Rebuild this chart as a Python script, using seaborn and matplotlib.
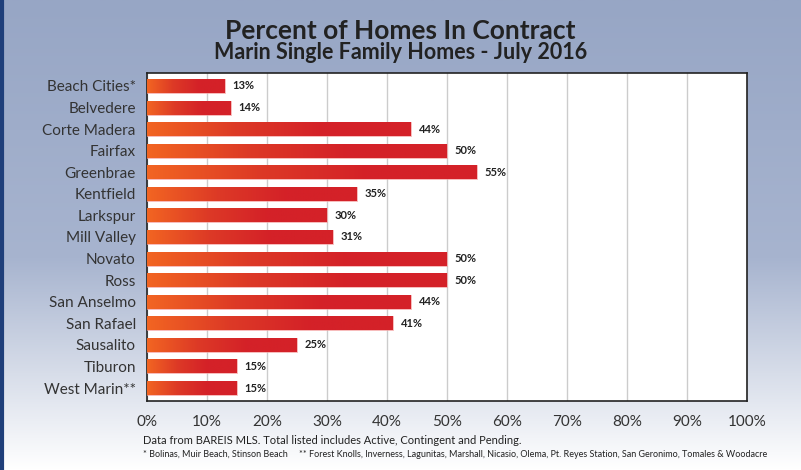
import numpy as np
import pandas as pd
import matplotlib.pyplot as plt
import seaborn as sns
from matplotlib.colors import LinearSegmentedColormap

# data
areas = ['Beach Cities*', 'Belvedere', 'Corte Madera', 'Fairfax', 'Greenbrae',
         'Kentfield', 'Larkspur', 'Mill Valley', 'Novato', 'Ross',
         'San Anselmo', 'San Rafael', 'Sausalito', 'Tiburon', 'West Marin**']
pct_in_contract = [13, 14, 44, 50, 55, 35, 30, 31, 50, 50, 44, 41, 25, 15, 15]
x_ticks = [0, 10, 20, 30, 40, 50, 60, 70, 80, 90, 100]

df = pd.DataFrame({'area': areas, 'pct': pct_in_contract})

sns.set_theme(style='white')
plt.rcParams['font.family'] = ['Lato', 'DejaVu Sans']

fig = plt.figure(figsize=(8.01, 4.70), dpi=100)

# background gradient
bg = fig.add_axes([0, 0, 1, 1], zorder=-10)
grad = np.linspace(0, 1, 256).reshape(-1, 1)
bg_cmap = LinearSegmentedColormap.from_list('bg', [(0, '#97a6c5'), (0.55, '#a7b4cf'), (1, '#ffffff')])
bg.imshow(grad, aspect='auto', cmap=bg_cmap, extent=[0, 1, 0, 1], origin='upper')
bg.axvline(0.002, color='#1f3f7a', lw=3)
bg.set_axis_off()

ax = fig.add_axes([0.1835, 0.1468, 0.749, 0.6979])
ax.set_facecolor('white')
sns.barplot(data=df, x='pct', y='area', orient='h', width=0.65, color='#d42128', ax=ax, zorder=3)

# gradient fill for each bar
bar_cmap = LinearSegmentedColormap.from_list('bar', ['#f26522', '#dd3a26', '#d42128', '#d42128'])
hgrad = np.linspace(0, 1, 256).reshape(1, -1)
for p in ax.patches:
    x0, y0 = p.get_x(), p.get_y()
    w, h = p.get_width(), p.get_height()
    p.set_facecolor('none')
    p.set_edgecolor('#f4a0a0')
    p.set_linewidth(0.5)
    im = ax.imshow(hgrad, aspect='auto', cmap=bar_cmap, extent=[x0, x0 + w, y0 + h, y0], zorder=3)
    im.set_clip_path(p)

for i, v in enumerate(pct_in_contract):
    ax.text(v + 1.3, i, f'{v}%', va='center', ha='left', fontsize=8,
            fontweight='bold', color='#222222', zorder=4)

ax.set_xlim(0, 100)
ax.set_ylim(len(areas) - 0.4, -0.6)
ax.set_xticks(x_ticks)
ax.set_xticklabels([f'{t}%' for t in x_ticks], fontsize=11, color='#333333')
ax.tick_params(axis='y', labelsize=11, labelcolor='#333333', length=0, pad=8)
ax.tick_params(axis='x', length=0, pad=10)
ax.set_xlabel('')
ax.set_ylabel('')
ax.xaxis.grid(True, color='#cccccc', lw=1, zorder=0)
ax.set_axisbelow(True)
for s in ax.spines.values():
    s.set_color('#222222')
    s.set_linewidth(1.2)

fig.text(0.5, 0.935, 'Percent of Homes In Contract', ha='center', va='center',
         fontsize=19, fontweight='bold', color='#222222')
fig.text(0.5, 0.888, 'Marin Single Family Homes - July 2016', ha='center', va='center',
         fontsize=15.5, fontweight='bold', color='#222222')

fig.text(0.178, 0.063, 'Data from BAREIS MLS. Total listed includes Active, Contingent and Pending.',
         ha='left', va='center', fontsize=8, color='#222222')
fig.text(0.178, 0.032, '* Bolinas, Muir Beach, Stinson Beach     ** Forest Knolls, Inverness, Lagunitas, Marshall, '
         'Nicasio, Olema, Pt. Reyes Station, San Geronimo, Tomales & Woodacre',
         ha='left', va='center', fontsize=6.45, color='#222222')

fig.savefig('out.png', dpi=100)
